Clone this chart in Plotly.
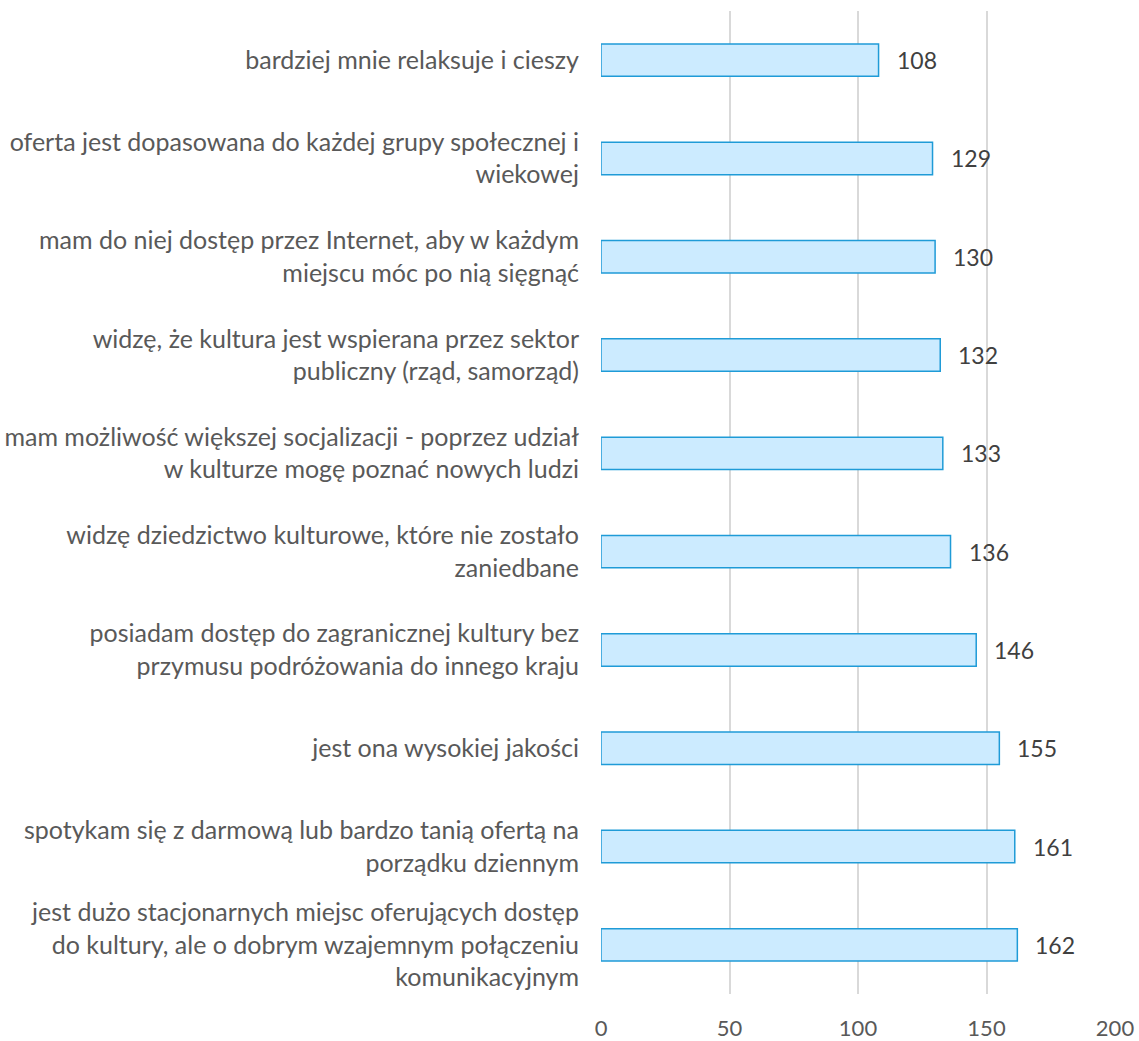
import plotly.graph_objects as go

# Reasons, listed top to bottom as displayed
categories = [
    "bardziej mnie relaksuje i cieszy",
    "oferta jest dopasowana do każdej grupy społecznej i<br>wiekowej",
    "mam do niej dostęp przez Internet, aby w każdym<br>miejscu móc po nią sięgnąć",
    "widzę, że kultura jest wspierana przez sektor<br>publiczny (rząd, samorząd)",
    "mam możliwość większej socjalizacji - poprzez udział<br>w kulturze mogę poznać nowych ludzi",
    "widzę dziedzictwo kulturowe, które nie zostało<br>zaniedbane",
    "posiadam dostęp do zagranicznej kultury bez<br>przymusu podróżowania do innego kraju",
    "jest ona wysokiej jakości",
    "spotykam się z darmową lub bardzo tanią ofertą na<br>porządku dziennym",
    "jest dużo stacjonarnych miejsc oferujących dostęp<br>do kultury, ale o dobrym wzajemnym połączeniu<br>komunikacyjnym",
]
values = [108, 129, 130, 132, 133, 136, 146, 155, 161, 162]
x_ticks = [0, 50, 100, 150, 200]

FONT = "Lato, 'Open Sans', sans-serif"

fig = go.Figure(
    go.Bar(
        x=values,
        y=categories,
        orientation="h",
        width=0.33,
        marker=dict(color="#CCEBFF", line=dict(color="#1F9BD7", width=1.5)),
    )
)

# Value labels placed just right of each bar end
for cat, val in zip(categories, values):
    fig.add_annotation(
        x=val, y=cat, text=str(val), showarrow=False,
        xanchor="left", xshift=16,
        font=dict(family=FONT, size=23, color="#404040"),
    )

fig.update_layout(
    width=1139,
    height=1041,
    margin=dict(l=601, r=24, t=11, b=47, autoexpand=False),
    paper_bgcolor="white",
    plot_bgcolor="white",
    showlegend=False,
    font=dict(family=FONT, size=24, color="#595959"),
    xaxis=dict(
        range=[0, 200],
        tickvals=x_ticks,
        showgrid=True,
        gridcolor="#D9D9D9",
        gridwidth=1.5,
        zeroline=False,
        showline=False,
        ticks="",
        automargin=False,
        ticklabelstandoff=19,
        tickfont=dict(family=FONT, size=22, color="#595959"),
    ),
    yaxis=dict(
        autorange="reversed",
        showgrid=False,
        showline=False,
        ticks="",
        automargin=False,
        ticklabelstandoff=21,
        tickfont=dict(family=FONT, size=25, color="#595959"),
    ),
)

fig.write_html("out.html")
